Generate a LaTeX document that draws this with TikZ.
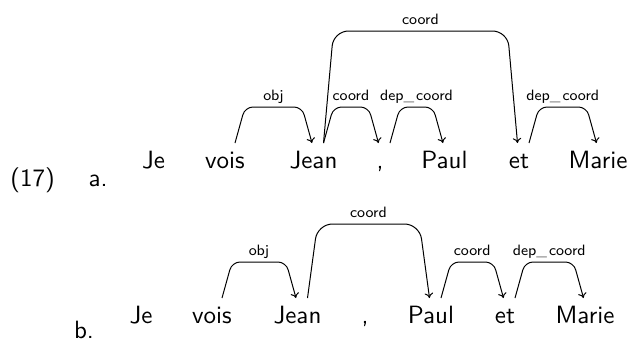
\documentclass[tikz,border=0pt]{standalone}
\usetikzlibrary{calc,arrows.meta}
\newcommand\darc[5][deparc]{%
  \draw[#1] ($(#2.base)+(10,-25)$) -- ++(10,-#4)
    -- node[lbl,midway,yshift=2.6pt]{#5} ($(#3.base)+(-11.5,-25-#4)$)
    -- ($(#3.base)+(-1.5,-25)$);}
\newcommand\usc{{\color{black!40}\_}\kern0.8pt}
\begin{document}
\begin{tikzpicture}[x=0.4pt,y=-0.4pt,
  word/.style={anchor=base,inner sep=0pt,font=\sffamily},
  lbl/.style={anchor=base,inner sep=0pt,font=\sffamily\fontsize{6}{7}\selectfont},
  deparc/.style={line width=0.4pt,rounded corners=3.2pt,-{To[length=2pt,width=3.4pt]}},
  bigarc/.style={deparc,rounded corners=6pt}]
\useasboundingbox (0,0) rectangle (632,340);
\node[word] (num) at (32.5,186) {(17)};
\node[word] (la) at (98,186) {a.};
\node[word] (lb) at (84,338) {b.};
% row a
\node[word] (aJe)    at (153.5,168) {Je};
\node[word] (avois)  at (225,168)   {vois};
\node[word] (aJean)  at (313.5,168) {Jean};
\node[word] (acomma) at (380,168)   {,};
\node[word] (aPaul)  at (444.5,168) {Paul};
\node[word] (aet)    at (519,168)   {et};
\node[word] (aMarie) at (598,168)   {Marie};
% row b
\node[word] (bJe)    at (141,323)   {Je};
\node[word] (bvois)  at (212,323)   {vois};
\node[word] (bJean)  at (297.5,323) {Jean};
\node[word] (bcomma) at (365,323)   {,};
\node[word] (bPaul)  at (431,323)   {Paul};
\node[word] (bet)    at (505,323)   {et};
\node[word] (bMarie) at (585,323)   {Marie};
% arcs row a
\darc{avois}{aJean}{36}{obj}
\darc{aJean}{acomma}{36}{coord}
\darc{acomma}{aPaul}{36}{dep\usc coord}
\darc[bigarc]{aJean}{aet}{112}{coord}
\darc{aet}{aMarie}{36}{dep\usc coord}
% arcs row b
\darc{bvois}{bJean}{36}{obj}
\darc[bigarc]{bJean}{bPaul}{74}{coord}
\darc{bPaul}{bet}{36}{coord}
\darc{bet}{bMarie}{36}{dep\usc coord}
\end{tikzpicture}
\end{document}
